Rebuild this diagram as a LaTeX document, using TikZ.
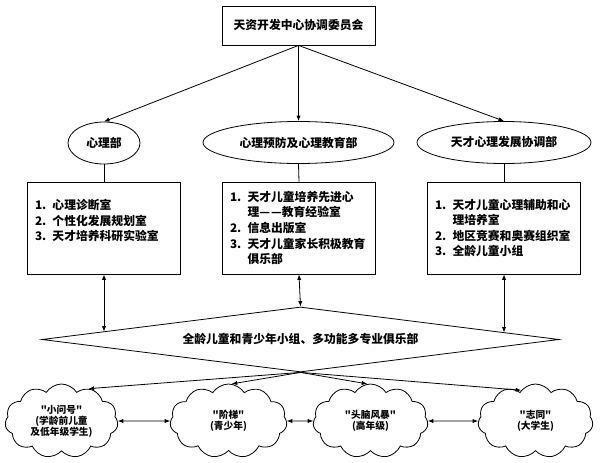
\documentclass[tikz,border=0pt]{standalone}
\usepackage{fontspec}
\setmainfont{Noto Sans CJK SC}[Ligatures=TeXOff]
\usetikzlibrary{shapes.geometric,shapes.symbols,arrows.meta,calc}
\newcommand\li[1]{\makebox[17.5pt][l]{#1}}
\begin{document}
\begin{tikzpicture}[x=1pt,y=-1pt,
  line width=0.8pt,
  >={Latex[length=5.5pt,width=4.2pt]},
  base/.style={font=\bfseries\fontsize{11.8}{15.6}\selectfont},
  topbox/.style={base,draw,rectangle,minimum width=153pt,minimum height=39pt,inner sep=0pt},
  dept/.style={base,draw,ellipse,inner sep=0pt,minimum height=42pt},
  listbox/.style={base,draw,rectangle,minimum width=153pt,minimum height=92pt,text width=138pt,inner xsep=7.5pt,inner ysep=0pt,align=left},
  hub/.style={base,draw,diamond,minimum width=517pt,minimum height=65pt,inner sep=0pt,aspect=8},
  club/.style={draw,cloud,cloud puffs=11,cloud puff arc=115,cloud ignores aspect,minimum width=115pt,minimum height=74pt,inner sep=0pt,align=center,font=\bfseries\fontsize{9.7}{11}\selectfont}
]
\useasboundingbox (0,0) rectangle (600,463);

\node[topbox] (top) at (298.5,25.5) {天资开发中心协调委员会};

\node[dept,minimum width=72pt] (d1) at (104,143) {心理部};
\node[dept,minimum width=191pt] (d2) at (298.5,142.5) {心理预防及心理教育部};
\node[dept,minimum width=174pt] (d3) at (504,142.5) {天才心理发展协调部};

\node[listbox] (b1) at (104,228) {\li{1.}心理诊断室\\\li{2.}个性化发展规划室\\\li{3.}天才培养科研实验室\\~};
\node[listbox] (b2) at (299,228) {\li{1.}天才儿童培养先进心\\\li{}理—\kern1pt—教育经验室\\\li{2.}信息出版室\\\li{3.}天才儿童家长积极教育\\\li{}俱乐部};
\node[listbox] (b3) at (504,228) {\li{1.}天才儿童心理辅助和心\\\li{}理培养室\\\li{2.}地区竞赛和奥赛组织室\\\li{3.}全龄儿童小组};

\node[hub] (hub) at (300.5,339.5) {全龄儿童和青少年小组、多功能多专业俱乐部};

\node[club,minimum width=113pt] (c1) at (61.5,421) {"小问号"\\(学龄前儿童\\及低年级学生)};
\node[club,minimum width=117pt] (c2) at (228.5,421) {"阶梯"\\(青少年)};
\node[club] (c3) at (370.5,421) {"头脑风暴"\\(高年级)};
\node[club] (c4) at (535.5,421) {"志同"\\(大学生)};

\coordinate (h1) at ($(hub.west)!0.2398!(hub.north)$);
\coordinate (h3) at ($(hub.east)!0.2128!(hub.north)$);

\draw[->] (top.south) -- (d1.north);
\draw[->] (top.south) -- (d2.north);
\draw[->] (top.south) -- (d3.north);

\draw (d1.south) -- (b1.north);
\draw (d2.south) -- (b2.north);
\draw (d3.south) -- (b3.north);

\draw[<->] (b1.south) -- (b1.south |- h1);
\draw[<->] (b2.south) -- (hub.north);
\draw[<->] (b3.south) -- (b3.south |- h3);

\draw[->] (hub.south) -- (c1.50);
\draw[->] (hub.south) -- (c2.85);
\draw[->] (hub.south) -- (c3.95);
\draw[->] (hub.south) -- (c4.115);

\draw[<->] (c1.east) -- (c2.west);
\draw[<->] (c2.east) -- (c3.west);
\draw[<->] (c3.east) -- (c4.west);
\end{tikzpicture}
\end{document}
